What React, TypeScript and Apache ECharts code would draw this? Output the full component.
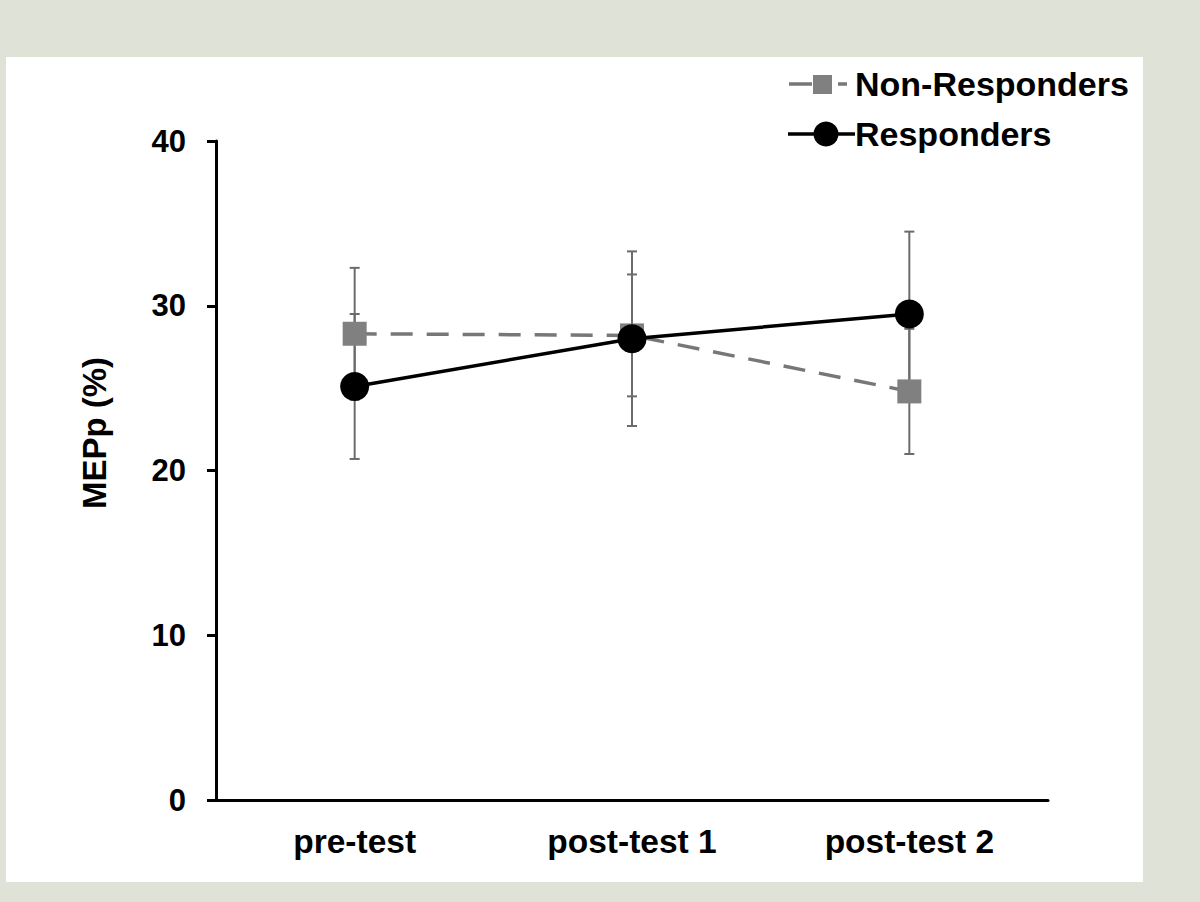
import React, { useEffect, useRef } from "react";
import * as echarts from "echarts";

const categories = ["pre-test", "post-test 1", "post-test 2"];
const nonResponders = [28.3, 28.2, 24.8];
const nonRespErr = [4.0, 3.7, 3.8];
const responders = [25.1, 28.0, 29.5];
const respErr = [4.4, 5.3, 5.0];
const yTicks = [0, 10, 20, 30, 40];
const seriesNames = ["Non-Responders", "Responders"];
const yAxisTitle = "MEPp (%)";

const FONT = "Liberation Sans, Arial, sans-serif";

export default function App() {
  const ref = useRef<HTMLDivElement>(null);
  useEffect(() => {
    const chart = echarts.init(ref.current!, null, { renderer: "svg" });
    const errData = (vals: number[], errs: number[]) =>
      vals.map((v, i) => [i, v - errs[i], v + errs[i]]);
    const errSeries = (name: string, vals: number[], errs: number[]) => ({
      type: "custom",
      name: name + "-err",
      z: 1,
      silent: true,
      data: errData(vals, errs),
      renderItem: (params: any, api: any) => {
        const x = api.value(0);
        const lo = api.coord([x, api.value(1)]);
        const hi = api.coord([x, api.value(2)]);
        const cw = 5;
        const style = { stroke: "#6b6b6b", lineWidth: 2 };
        return {
          type: "group",
          children: [
            { type: "line", shape: { x1: lo[0], y1: lo[1], x2: hi[0], y2: hi[1] }, style },
            { type: "line", shape: { x1: lo[0] - cw, y1: lo[1], x2: lo[0] + cw, y2: lo[1] }, style },
            { type: "line", shape: { x1: hi[0] - cw, y1: hi[1], x2: hi[0] + cw, y2: hi[1] }, style },
          ],
        };
      },
    });
    const legendText = { fontFamily: FONT, fontWeight: "bold", fontSize: 34, fill: "#000" };
    chart.setOption({
      animation: false,
      backgroundColor: "#dee2d7",
      graphic: [
        {
          type: "rect",
          z: -10,
          shape: { x: 6, y: 57, width: 1137, height: 825 },
          style: { fill: "#ffffff" },
        },
        // legend row 1: Non-Responders
        { type: "line", shape: { x1: 789, y1: 84, x2: 812, y2: 84 }, style: { stroke: "#777777", lineWidth: 3.5 } },
        { type: "rect", shape: { x: 813, y: 75, width: 19, height: 19 }, style: { fill: "#808080" } },
        { type: "line", shape: { x1: 838, y1: 84, x2: 847, y2: 84 }, style: { stroke: "#777777", lineWidth: 3.5 } },
        {
          type: "text",
          x: 855,
          y: 84,
          style: { ...legendText, text: seriesNames[0], verticalAlign: "middle", align: "left" },
        },
        // legend row 2: Responders
        { type: "line", shape: { x1: 788, y1: 134, x2: 855, y2: 134 }, style: { stroke: "#000", lineWidth: 3.5 } },
        { type: "circle", shape: { cx: 826, cy: 134, r: 12.5 }, style: { fill: "#000" } },
        {
          type: "text",
          x: 855,
          y: 134,
          style: { ...legendText, text: seriesNames[1], verticalAlign: "middle", align: "left" },
        },
        // y axis title
        {
          type: "text",
          x: 94,
          y: 433,
          rotation: Math.PI / 2,
          style: {
            text: yAxisTitle,
            fontFamily: FONT,
            fontWeight: "bold",
            fontSize: 33,
            fill: "#000",
            align: "center",
            verticalAlign: "middle",
          },
        },
      ],
      grid: { left: 216, right: 152, top: 141, bottom: 102 },
      xAxis: {
        type: "category",
        data: categories,
        axisLine: { lineStyle: { color: "#000", width: 3 } },
        axisTick: { show: false },
        axisLabel: {
          margin: 24,
          fontFamily: FONT,
          fontWeight: "bold",
          fontSize: 33.5,
          color: "#000",
        },
      },
      yAxis: {
        type: "value",
        min: 0,
        max: 40,
        interval: 10,
        splitLine: { show: false },
        axisLine: { show: true, lineStyle: { color: "#000", width: 3 } },
        axisTick: { show: true, length: 9, lineStyle: { color: "#000", width: 3 } },
        axisLabel: {
          margin: 30,
          fontFamily: FONT,
          fontWeight: "bold",
          fontSize: 31,
          color: "#000",
          formatter: (v: number) => (yTicks.includes(v) ? String(v) : ""),
        },
      },
      series: [
        errSeries(seriesNames[0], nonResponders, nonRespErr),
        errSeries(seriesNames[1], responders, respErr),
        {
          name: seriesNames[0],
          type: "line",
          z: 3,
          data: nonResponders,
          symbol: "rect",
          symbolSize: 24,
          itemStyle: { color: "#808080" },
          lineStyle: { color: "#777777", width: 3.5, type: [22, 14] },
        },
        {
          name: seriesNames[1],
          type: "line",
          z: 4,
          data: responders,
          symbol: "circle",
          symbolSize: 29,
          itemStyle: { color: "#000000" },
          lineStyle: { color: "#000000", width: 3.5 },
        },
      ],
    });
    return () => chart.dispose();
  }, []);
  return (
    <div
      ref={ref}
      style={{ position: "fixed", left: 0, top: 0, width: 1200, height: 902 }}
    />
  );
}
